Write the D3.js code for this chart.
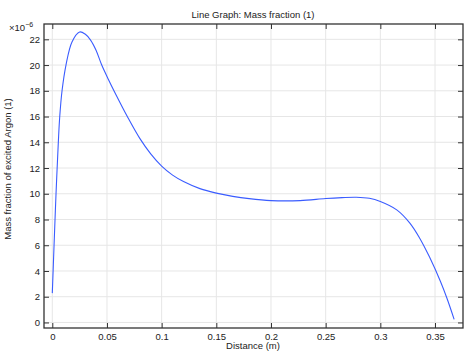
<!DOCTYPE html>
<html>
<head>
<meta charset="utf-8">
<script src="https://cdn.jsdelivr.net/npm/d3@7"></script>
<style>
  body { margin: 0; background: #fff; }
  svg { display: block; font-family: "Liberation Sans", Arial, sans-serif; }
</style>
</head>
<body>
<svg id="chart" width="473" height="354"></svg>
<script>
// distance along the line (m)
const distance = [0, 0.0016, 0.0034, 0.0055, 0.0068, 0.0089, 0.0125, 0.018, 0.025, 0.03, 0.035, 0.04,
  0.0452, 0.0512, 0.0573, 0.0686, 0.08, 0.09, 0.1, 0.11, 0.12, 0.135, 0.15, 0.165, 0.18, 0.2, 0.2266,
  0.25, 0.265, 0.278, 0.29, 0.30, 0.315, 0.327, 0.336, 0.345, 0.355, 0.361, 0.3675];
// mass fraction of excited argon (x1e-6)
const massFrac = [2.28, 6, 10, 14, 16, 18, 20, 21.8, 22.57, 22.41, 21.94, 21.15,
  20.0, 18.9, 17.85, 16.0, 14.3, 13.1, 12.15, 11.45, 10.95, 10.4, 10.05, 9.8, 9.62, 9.47, 9.47,
  9.63, 9.7, 9.73, 9.65, 9.4, 8.75, 7.72, 6.55, 5.08, 3.18, 1.86, 0.24];

const xTicks = [0, 0.05, 0.1, 0.15, 0.2, 0.25, 0.3, 0.35];
const yTicks = [0, 2, 4, 6, 8, 10, 12, 14, 16, 18, 20, 22];

const title = "Line Graph: Mass fraction (1)";
const xTitle = "Distance (m)";
const yTitle = "Mass fraction of excited Argon (1)";

const mLeft = 44, mRight = 463, mTop = 24, mBottom = 328;
const svg = d3.select("#chart");

const x = d3.scaleLinear().domain([-0.0076, 0.3756]).range([mLeft, mRight]);
const y = d3.scaleLinear().domain([-0.43, 23.19]).range([mBottom, mTop]);

// grid
svg.append("g").selectAll("line").data(xTicks).join("line")
  .attr("x1", d => x(d)).attr("x2", d => x(d))
  .attr("y1", mTop).attr("y2", mBottom)
  .attr("stroke", "#e6e6e6");
svg.append("g").selectAll("line").data(yTicks).join("line")
  .attr("x1", mLeft).attr("x2", mRight)
  .attr("y1", d => y(d)).attr("y2", d => y(d))
  .attr("stroke", "#e6e6e6");

// curve
const line = d3.line().x((d, i) => x(distance[i])).y(d => y(d)).curve(d3.curveCatmullRom.alpha(0.5));
svg.append("path").datum(massFrac)
  .attr("d", line)
  .attr("fill", "none")
  .attr("stroke", "#3a5cff")
  .attr("stroke-width", 1.1);

// axes, ticks pointing inward
const fmt = d => d === 0 ? "0" : String(d);
const gx = svg.append("g").attr("transform", `translate(0,${mBottom})`)
  .call(d3.axisBottom(x).tickValues(xTicks).tickSize(-5).tickPadding(5).tickFormat(fmt));
const gxTop = svg.append("g").attr("transform", `translate(0,${mTop})`)
  .call(d3.axisTop(x).tickValues(xTicks).tickSize(-5).tickFormat(""));
const gy = svg.append("g").attr("transform", `translate(${mLeft},0)`)
  .call(d3.axisLeft(y).tickValues(yTicks).tickSize(-5).tickPadding(4).tickFormat(fmt));
const gyRight = svg.append("g").attr("transform", `translate(${mRight},0)`)
  .call(d3.axisRight(y).tickValues(yTicks).tickSize(-5).tickFormat(""));

[gx, gxTop, gy, gyRight].forEach(g => {
  g.select(".domain").remove();
  g.selectAll("line").attr("stroke", "#333");
  g.selectAll("text").attr("fill", "#222").attr("font-size", 9.5)
    .attr("font-family", "'Liberation Sans', Arial, sans-serif");
});

// frame
svg.append("rect")
  .attr("x", mLeft).attr("y", mTop)
  .attr("width", mRight - mLeft).attr("height", mBottom - mTop)
  .attr("fill", "none").attr("stroke", "#333").attr("stroke-width", 1.3);

// labels
svg.append("text").attr("x", 253).attr("y", 18).attr("text-anchor", "middle")
  .attr("font-size", 9.5).attr("fill", "#222").text(title);
svg.append("text").attr("x", 253).attr("y", 349).attr("text-anchor", "middle")
  .attr("font-size", 9.5).attr("fill", "#222").text(xTitle);
svg.append("text").attr("transform", "translate(11,169) rotate(-90)").attr("text-anchor", "middle")
  .attr("font-size", 9.5).attr("fill", "#222").text(yTitle);

const mult = svg.append("text").attr("x", 9).attr("y", 31).attr("font-size", 9.5).attr("fill", "#222");
mult.append("tspan").text("×10");
mult.append("tspan").attr("dy", -4).attr("font-size", 7).text("−6");
</script>
</body>
</html>
